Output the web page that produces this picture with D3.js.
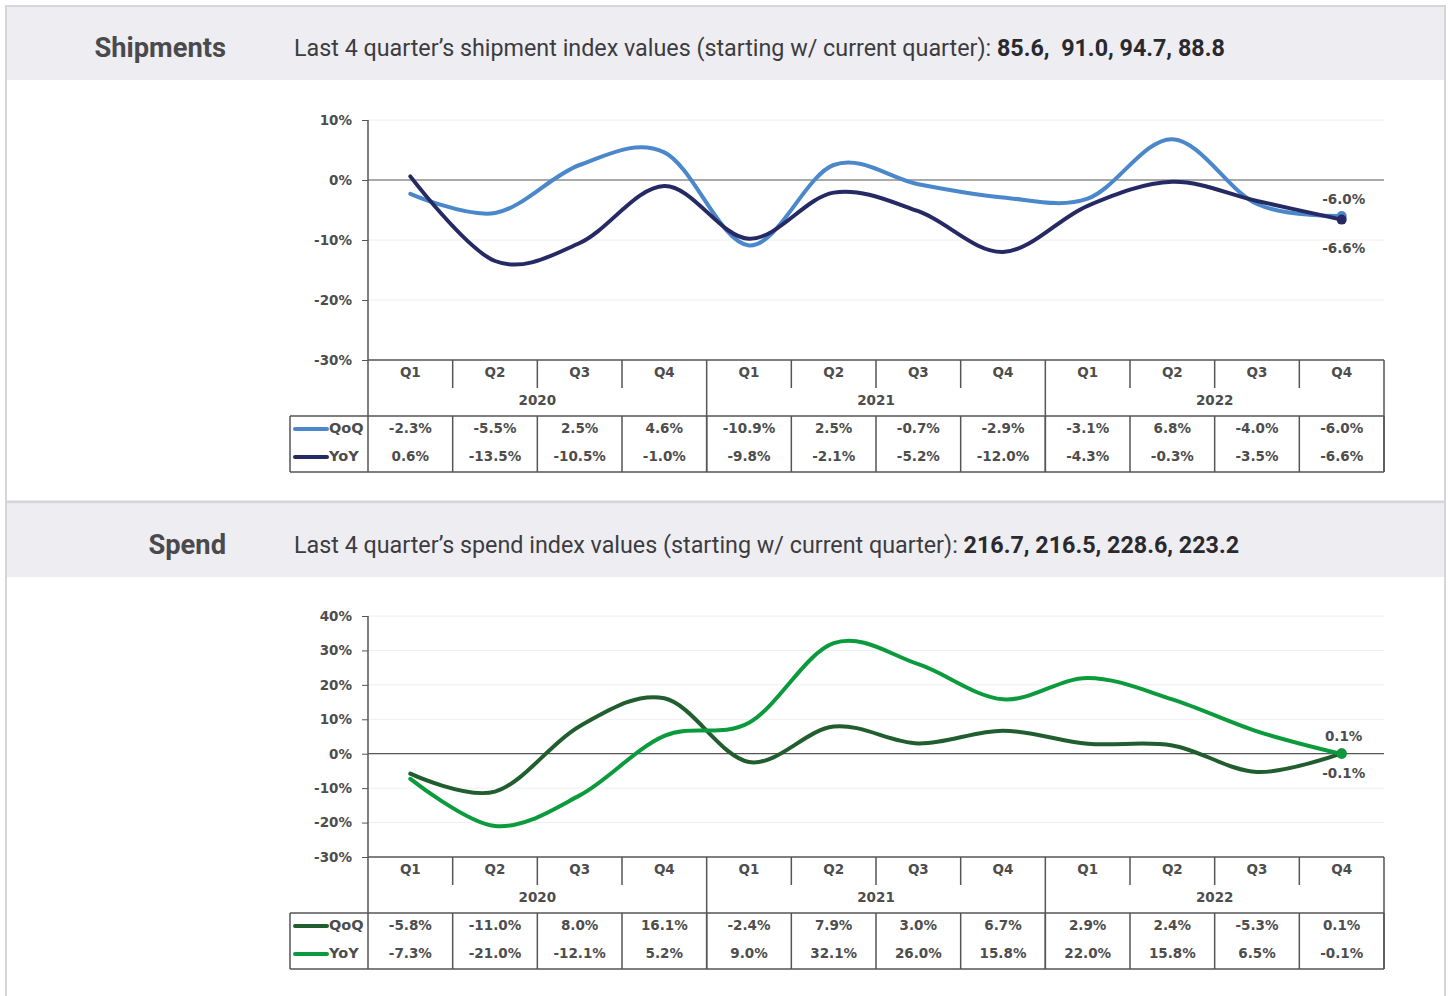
<!DOCTYPE html>
<html>
<head>
<meta charset="utf-8">
<script src="https://cdn.jsdelivr.net/npm/d3@7"></script>
<style>
  body { margin: 0; background: #fff; }
  svg { display: block; }
  .tick text, .cell { font-family: "DejaVu Sans", sans-serif; font-weight: bold; font-size: 13.5px; fill: #4d4d4d; }
</style>
</head>
<body>
<div id="chart"></div>
<script>
// DATA
const quarters = ["Q1","Q2","Q3","Q4","Q1","Q2","Q3","Q4","Q1","Q2","Q3","Q4"];
const years = ["2020","2021","2022"];

const shipIndex = ["85.6", " 91.0", "94.7", "88.8"];
const shipTicks = [10, 0, -10, -20, -30];
const shipQoQ = [-2.3, -5.5, 2.5, 4.6, -10.9, 2.5, -0.7, -2.9, -3.1, 6.8, -4.0, -6.0];
const shipYoY = [0.6, -13.5, -10.5, -1.0, -9.8, -2.1, -5.2, -12.0, -4.3, -0.3, -3.5, -6.6];

const spendIndex = ["216.7", "216.5", "228.6", "223.2"];
const spendTicks = [40, 30, 20, 10, 0, -10, -20, -30];
const spendQoQ = [-5.8, -11.0, 8.0, 16.1, -2.4, 7.9, 3.0, 6.7, 2.9, 2.4, -5.3, 0.1];
const spendYoY = [-7.3, -21.0, -12.1, 5.2, 9.0, 32.1, 26.0, 15.8, 22.0, 15.8, 6.5, -0.1];

// DIMENSIONS
const W = 1449, H = 996;
const left = 368, right = 1384, legendLeft = 290;

let svg = d3.select("#chart")
    .append("svg")
    .attr("width", W)
    .attr("height", H);

// OUTER FRAME
svg.append("rect")
    .attr("x", 6).attr("y", 6)
    .attr("width", 1439).attr("height", 1000)
    .attr("fill", "none")
    .attr("stroke", "#d6d6da")
    .attr("stroke-width", 2);

const pct = v => v.toFixed(1) + "%";

function header(y0, title, label, values) {
    svg.append("rect")
        .attr("x", 7).attr("y", y0)
        .attr("width", 1437).attr("height", 73)
        .attr("fill", "#eeedf2");

    svg.append("text")
        .attr("x", 226).attr("y", y0 + 50)
        .attr("text-anchor", "end")
        .style("font-family", "Roboto, sans-serif")
        .style("font-weight", "bold")
        .style("font-size", "27.3px")
        .attr("fill", "#4a4a4e")
        .text(title);

    let t = svg.append("text")
        .attr("x", 294).attr("y", y0 + 49)
        .style("font-family", "Roboto, sans-serif")
        .style("font-size", "23.3px")
        .attr("fill", "#3c3c40");
    t.append("tspan").text(label);
    t.append("tspan")
        .style("font-weight", "bold")
        .attr("fill", "#2a2a2e")
        .attr("xml:space", "preserve")
        .text(values.join(", "));
}

function drawPanel(cfg) {
    const top = cfg.top, bottom = cfg.bottom;

    let xScale = d3.scaleBand()
        .domain(d3.range(quarters.length))
        .range([left, right]);

    let yScale = d3.scaleLinear()
        .domain([d3.min(cfg.ticks), d3.max(cfg.ticks)])
        .range([bottom, top]);

    let g = svg.append("g");

    // GRID
    g.selectAll(".grid")
        .data(cfg.ticks.filter(d => d !== 0 && d !== d3.min(cfg.ticks)))
        .enter().append("line")
        .attr("x1", left).attr("x2", right)
        .attr("y1", d => yScale(d)).attr("y2", d => yScale(d))
        .attr("stroke", "#eeeeee");

    // ZERO LINE
    g.append("line")
        .attr("x1", left).attr("x2", right)
        .attr("y1", yScale(0)).attr("y2", yScale(0))
        .attr("stroke", "#555").attr("stroke-width", 1.2);

    // Y AXIS
    const yAxis = d3.axisLeft(yScale)
        .tickValues(cfg.ticks)
        .tickSize(6)
        .tickPadding(10)
        .tickFormat(d => d + "%");
    g.append("g")
        .attr("transform", "translate(" + left + ",0)")
        .call(yAxis)
        .call(a => a.select(".domain").remove())
        .call(a => a.selectAll(".tick line").attr("stroke", "#555"));

    // TABLE
    const rowQ = bottom, rowY = bottom + 28, rowD = bottom + 56, rowEnd = bottom + 112;
    const tbl = g.append("g")
        .attr("stroke", "#555")
        .attr("stroke-width", 1.5)
        .attr("fill", "none");

    // axis line through table
    tbl.append("line").attr("x1", left).attr("x2", left).attr("y1", top).attr("y2", rowEnd);
    tbl.append("line").attr("x1", left).attr("x2", right).attr("y1", rowQ).attr("y2", rowQ);
    tbl.append("line").attr("x1", legendLeft).attr("x2", right).attr("y1", rowD).attr("y2", rowD);
    tbl.append("line").attr("x1", legendLeft).attr("x2", right).attr("y1", rowEnd).attr("y2", rowEnd);
    tbl.append("line").attr("x1", legendLeft).attr("x2", legendLeft).attr("y1", rowD).attr("y2", rowEnd);

    // column separators
    tbl.selectAll(".sep")
        .data(d3.range(1, quarters.length + 1))
        .enter().append("line")
        .attr("x1", i => xScale(i - 1) + xScale.bandwidth())
        .attr("x2", i => xScale(i - 1) + xScale.bandwidth())
        .attr("y1", rowQ)
        .attr("y2", i => (i % 4 === 0) ? rowEnd : rowY)
        .clone(true)
        .attr("y1", rowD).attr("y2", rowEnd);

    // quarter labels
    g.selectAll(".ql")
        .data(quarters)
        .enter().append("text")
        .attr("class", "cell")
        .attr("x", (d, i) => xScale(i) + xScale.bandwidth() / 2)
        .attr("y", rowQ + 17)
        .attr("text-anchor", "middle")
        .text(d => d);

    // year labels
    g.selectAll(".yl")
        .data(years)
        .enter().append("text")
        .attr("class", "cell")
        .attr("x", (d, i) => xScale(i * 4) + xScale.bandwidth() * 2)
        .attr("y", rowY + 17)
        .attr("text-anchor", "middle")
        .text(d => d);

    // series
    const line = d3.line()
        .x((d, i) => xScale(i) + xScale.bandwidth() / 2)
        .y(d => yScale(d))
        .curve(d3.curveCardinal.tension(0));

    cfg.series.forEach((s, k) => {
        const ty = rowD + 17 + k * 28;

        // table values
        g.selectAll(".v" + k)
            .data(s.values)
            .enter().append("text")
            .attr("class", "cell")
            .attr("x", (d, i) => xScale(i) + xScale.bandwidth() / 2)
            .attr("y", ty)
            .attr("text-anchor", "middle")
            .text(d => pct(d));

        // legend
        g.append("line")
            .attr("x1", legendLeft + 5).attr("x2", legendLeft + 37)
            .attr("y1", ty - 4).attr("y2", ty - 4)
            .attr("stroke", s.color)
            .attr("stroke-width", 4)
            .attr("stroke-linecap", "round");
        g.append("text")
            .attr("class", "cell")
            .attr("x", legendLeft + 39)
            .attr("y", ty)
            .style("font-size", "14.5px")
            .text(s.name);
    });

    cfg.series.forEach(s => {
        g.append("path")
            .attr("d", line(s.values))
            .attr("fill", "none")
            .attr("stroke", s.color)
            .attr("stroke-width", 4)
            .attr("stroke-linecap", "round");
    });

    // end dots + labels
    const last = quarters.length - 1;
    const lx = xScale(last) + xScale.bandwidth() / 2;
    cfg.series.forEach(s => {
        g.append("circle")
            .attr("cx", lx)
            .attr("cy", yScale(s.values[last]))
            .attr("r", 5)
            .attr("fill", s.color);
    });
    cfg.series.forEach(s => {
        const above = s.values[last] === d3.max(cfg.series, t => t.values[last]);
        g.append("text")
            .attr("class", "cell")
            .attr("x", lx + 2)
            .attr("y", yScale(s.values[last]) + (above ? -12 : cfg.belowOffset))
            .attr("text-anchor", "middle")
            .text(pct(s.values[last]));
    });
}

header(7, "Shipments", "Last 4 quarter\u2019s shipment index values (starting w/ current quarter): ", shipIndex);

svg.append("line")
    .attr("x1", 6).attr("x2", 1446)
    .attr("y1", 502).attr("y2", 502)
    .attr("stroke", "#d6d6da").attr("stroke-width", 3);

header(504, "Spend", "Last 4 quarter\u2019s spend index values (starting w/ current quarter): ", spendIndex);

drawPanel({
    top: 120, bottom: 360, ticks: shipTicks, belowOffset: 33,
    series: [
        {name: "QoQ", values: shipQoQ, color: "#4a87cb"},
        {name: "YoY", values: shipYoY, color: "#262a64"}
    ]
});

drawPanel({
    top: 616, bottom: 857, ticks: spendTicks, belowOffset: 24,
    series: [
        {name: "QoQ", values: spendQoQ, color: "#215e2f"},
        {name: "YoY", values: spendYoY, color: "#0b9b3d"}
    ]
});
</script>
</body>
</html>
